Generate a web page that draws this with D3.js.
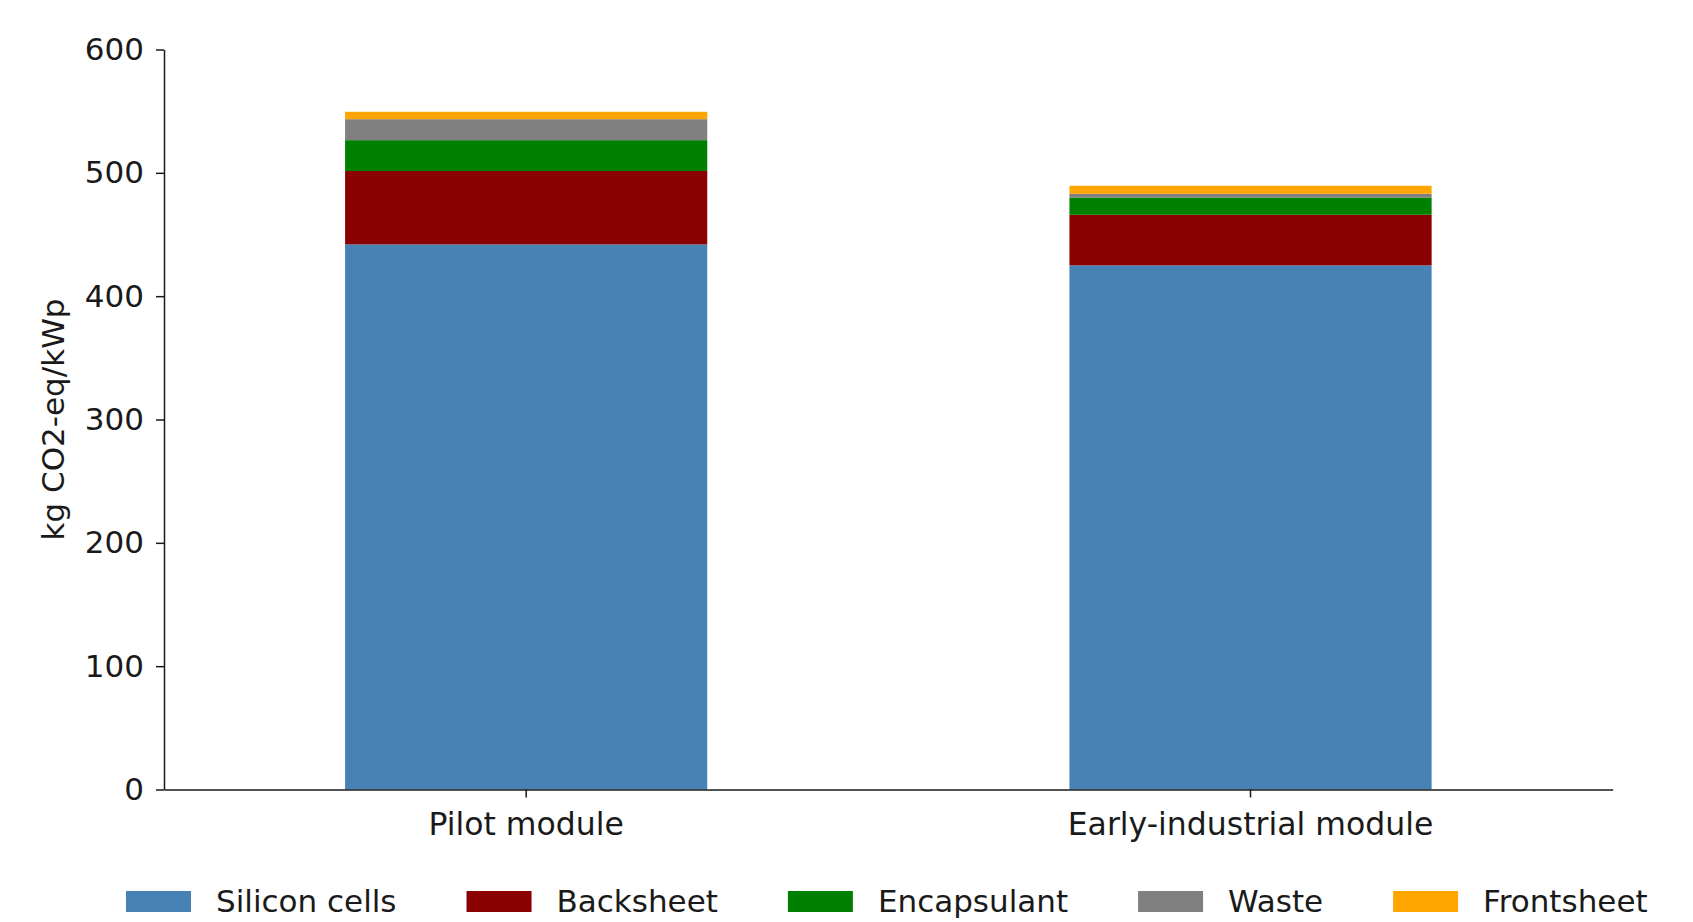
<!DOCTYPE html>
<html>
<head>
<meta charset="utf-8">
<script src="https://cdn.jsdelivr.net/npm/d3@7"></script>
<style>
  html, body { margin: 0; padding: 0; background: #fff; }
  svg { display: block; font-family: "DejaVu Sans", sans-serif; }
</style>
</head>
<body>
<svg id="chart" width="1693" height="922"></svg>
<script>
// Emission breakdown per module type (kg CO2-eq per kWp)
const categories = ["Pilot module", "Early-industrial module"];
const components = ["Silicon cells", "Backsheet", "Encapsulant", "Waste", "Frontsheet"];
const siliconCells = [442, 425];
const backsheet    = [59.5, 41];
const encapsulant  = [25, 14];
const waste        = [17, 3];
const frontsheet   = [6, 6.5];
const yTicks = [0, 100, 200, 300, 400, 500, 600];
const colors = ["#4682b4", "#8b0000", "#008000", "#808080", "#ffa500"];
const yLabel = "kg CO2-eq/kWp";

const seriesValues = [siliconCells, backsheet, encapsulant, waste, frontsheet];
const rows = categories.map((c, i) => {
  const r = { category: c };
  components.forEach((k, j) => { r[k] = seriesValues[j][i]; });
  return r;
});

const svg = d3.select("#chart");
const margin = { left: 164, right: 80.3, top: 49.5, bottom: 132.5 };
const W = 1693, H = 922;
const plotW = W - margin.left - margin.right;
const plotH = H - margin.top - margin.bottom;
const fontSize = 31;
const textColor = "#1a1a1a";

const g = svg.append("g").attr("transform", `translate(${margin.left},${margin.top})`);

const x = d3.scaleBand().domain(categories).range([0, plotW])
  .paddingInner(0.5).paddingOuter(0.25);
const y = d3.scaleLinear().domain([0, 600]).range([plotH, 0]);

const stack = d3.stack().keys(components);
const layers = stack(rows);

g.selectAll("g.layer").data(layers).join("g")
  .attr("class", "layer")
  .attr("fill", (d, i) => colors[i])
  .selectAll("rect").data(d => d).join("rect")
  .attr("x", d => x(d.data.category))
  .attr("width", x.bandwidth())
  .attr("y", d => y(d[1]))
  .attr("height", d => y(d[0]) - y(d[1]));

// Y axis
const yAxis = g.append("g")
  .call(d3.axisLeft(y).tickValues(yTicks).tickSize(8).tickPadding(12).tickSizeOuter(0));
yAxis.select(".domain").attr("stroke", textColor).attr("stroke-width", 1.5);
yAxis.selectAll(".tick line").attr("stroke", textColor).attr("stroke-width", 1.5);
yAxis.selectAll(".tick text").attr("font-size", fontSize).attr("fill", textColor)
  .attr("font-family", "DejaVu Sans");

// X axis
const xAxis = g.append("g").attr("transform", `translate(0,${plotH})`)
  .call(d3.axisBottom(x).tickSize(8).tickPadding(15).tickSizeOuter(0));
xAxis.select(".domain").attr("stroke", textColor).attr("stroke-width", 1.5);
xAxis.selectAll(".tick line").attr("stroke", textColor).attr("stroke-width", 1.5);
xAxis.selectAll(".tick text").attr("font-size", 31.5).attr("fill", textColor)
  .attr("font-family", "DejaVu Sans");

// Y axis title
svg.append("text")
  .attr("transform", `translate(64,${margin.top + y(300)}) rotate(-90)`)
  .attr("text-anchor", "middle")
  .attr("font-size", fontSize)
  .attr("fill", textColor)
  .text(yLabel);

// Legend along the bottom
const legend = svg.append("g").attr("transform", "translate(126,891)");
let lx = 0;
components.forEach((name, i) => {
  const item = legend.append("g").attr("transform", `translate(${lx},0)`);
  item.append("rect").attr("width", 65).attr("height", 21).attr("fill", colors[i]);
  const t = item.append("text").attr("x", 90).attr("y", 21)
    .attr("font-size", fontSize).attr("fill", textColor).text(name);
  lx += 90 + t.node().getComputedTextLength() + 70;
});
</script>
</body>
</html>
